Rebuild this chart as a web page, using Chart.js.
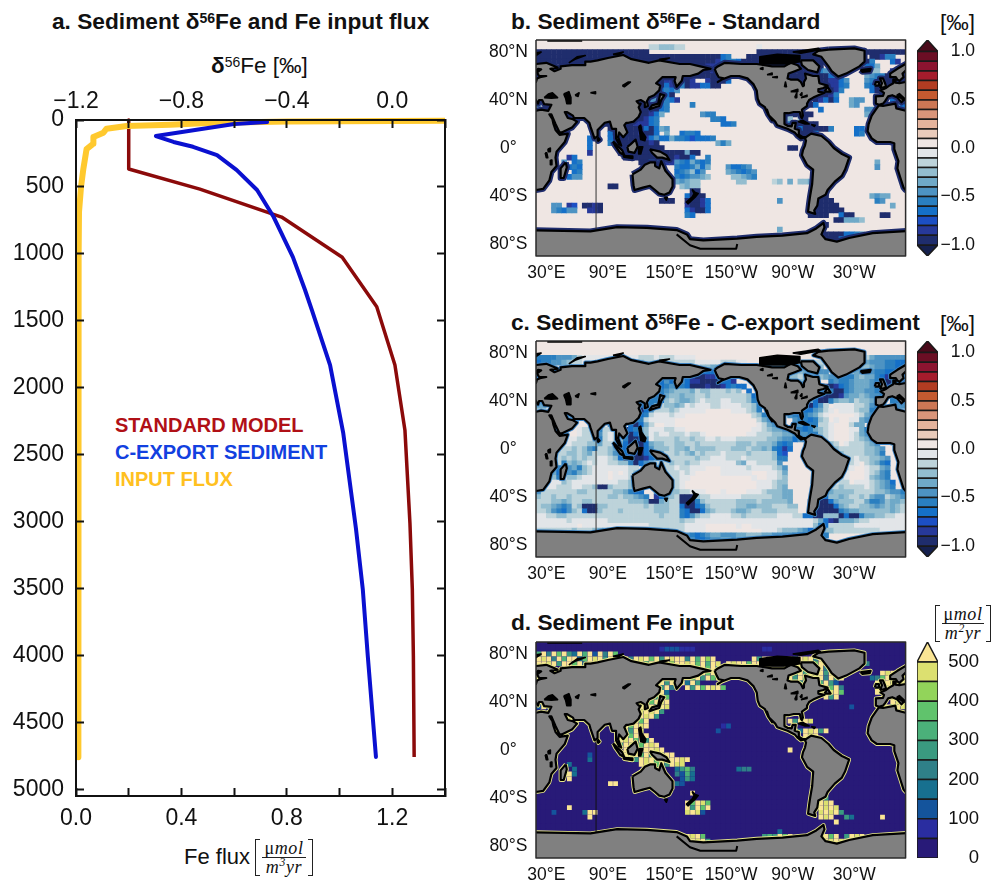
<!DOCTYPE html>
<html>
<head>
<meta charset="utf-8">
<title>Sediment d56Fe</title>
<script src="https://cdn.jsdelivr.net/npm/chart.js@4"></script>
<style>
html,body{margin:0;padding:0;background:#fff;overflow:hidden;width:1002px;height:884px}
body{position:relative;font-family:'Liberation Sans',Arial,sans-serif;color:#111}
canvas{position:absolute;display:block}
canvas.soft{filter:blur(0.45px)}
.txt{position:absolute;white-space:nowrap;line-height:1}
.title{font-weight:bold;font-size:22.7px}
.title sup,.lab sup{font-size:.62em;line-height:0;vertical-align:baseline;position:relative;top:-.42em}
.lab{font-size:22.5px}
.key{font-weight:bold;font-size:20px}
.brk{position:absolute;border:1.3px solid #222;top:0;bottom:0;width:4px}
.brk.l{left:0;border-right:0}
.brk.r{right:0;border-left:0}
.frac{position:absolute;left:7px;right:7px;top:0;bottom:0;text-align:center;font-family:'Liberation Serif',serif;font-style:italic;font-size:18px;letter-spacing:.6px}
.frac div{height:50%;line-height:19px}
.frac div:first-child{border-bottom:1.3px solid #222;box-sizing:border-box}
.frac sup{font-size:.65em;line-height:0}
.frac span{font-style:normal}
</style>
</head>
<body>
<div class="txt title" style="left:52px;top:10px">a. Sediment δ<sup>56</sup>Fe and Fe input flux</div>
<div class="txt lab" style="left:211px;top:55px"><b>δ</b><sup>56</sup>Fe [‰]</div>
<div class="txt key" style="left:115px;top:415px;color:#b01016">STANDARD MODEL</div>
<div class="txt key" style="left:115px;top:442px;color:#1240e0">C-EXPORT SEDIMENT</div>
<div class="txt key" style="left:115px;top:469px;color:#ffc020">INPUT FLUX</div>
<div class="txt lab" style="left:184px;top:846px;font-size:22px">Fe flux</div>
<div class="txt" style="left:255px;top:839px;width:58px;height:37px"><i class="brk l"></i><i class="brk r"></i><div class="frac"><div><span>μ</span>mol</div><div>m<sup>3</sup>yr</div></div></div>

<div class="txt title" style="left:511px;top:10px">b. Sediment δ<sup>56</sup>Fe - Standard</div>
<div class="txt lab" style="left:940px;top:12px">[‰]</div>
<div class="txt title" style="left:511px;top:311px">c. Sediment δ<sup>56</sup>Fe - C-export sediment</div>
<div class="txt lab" style="left:940px;top:313px">[‰]</div>
<div class="txt title" style="left:511px;top:611px">d. Sediment Fe input</div>
<div class="txt" style="left:935px;top:605px;width:56px;height:37px"><i class="brk l"></i><i class="brk r"></i><div class="frac"><div><span>μ</span>mol</div><div>m<sup>2</sup>yr</div></div></div>

<canvas id="profile" width="460" height="760" style="left:0;top:85px"></canvas>
<canvas id="mapB" class="soft" width="424" height="260" style="left:486px;top:30px"></canvas>
<canvas id="barB" width="92" height="260" style="left:910px;top:30px"></canvas>
<canvas id="mapC" class="soft" width="424" height="260" style="left:486px;top:331px"></canvas>
<canvas id="barC" width="92" height="260" style="left:910px;top:331px"></canvas>
<canvas id="mapD" class="soft" width="424" height="252" style="left:486px;top:632px"></canvas>
<canvas id="barD" width="92" height="252" style="left:910px;top:632px"></canvas>

<script>
// profile panel
var depthTicks=[0,500,1000,1500,2000,2500,3000,3500,4000,4500,5000];
var fluxTicks=[0,0.2,0.4,0.6,0.8,1.0,1.2,1.4];
var fluxTickLabels=['0.0','','0.4','','0.8','','1.2',''];
var deltaTicks=[-1.2,-1.0,-0.8,-0.6,-0.4,-0.2,0,0.2];
var deltaTickLabels=['−1.2','','−0.8','','−0.4','','0.0',''];

var standardDelta=[-1.0,-1.0,-0.73,-0.42,-0.19,-0.059,0.01,0.048,0.067,0.076,0.08,0.083];
var standardDepth=[0,366,516,725,1025,1395,1831,2317,3012,3503,4003,4758];
var exportDelta=[-0.475,-0.6,-0.897,-0.83,-0.756,-0.665,-0.59,-0.513,-0.45,-0.377,-0.331,-0.305,-0.236,-0.186,-0.138,-0.112,-0.093,-0.062];
var exportDepth=[15,30,120,164,200,262,374,523,725,1024,1270,1420,1831,2340,3049,3503,4003,4758];
var inputFlux=[1.4,0.8,0.5,0.357,0.192,0.116,0.104,0.066,0.066,0.04,0.028,0.019,0.0114,0.01,0.009,0.009];
var inputDepth=[5,12,22,35,45,65,95,127,177,218,364,500,688,1000,2500,4760];

// map axes
var lonTicks=[30,90,150,210,270,330];
var lonTickLabels=['30°E','90°E','150°E','150°W','90°W','30°W'];
var latTicks=[80,40,0,-40,-80];
var latTickLabels=['80°N','40°N','0°','40°S','80°S'];

// colour bars
var isoLevels=[-1,-0.9,-0.8,-0.7,-0.6,-0.5,-0.4,-0.3,-0.2,-0.1,0,0.1,0.2,0.3,0.4,0.5,0.6,0.7,0.8,0.9,1];
var isoColors=['#1f2d6d','#27399a','#1c4fc4','#1570c8','#2a7fc0','#4d93c3','#6fa9c8','#93bdcf','#bdd3da','#e2e5e8','#efe6e3','#e9cbbb','#e4b39c','#d9957a','#cc7755','#c45a30','#b23c22','#a51c2c','#8c1430','#6b0e24'];
var isoUnder='#15204e',isoOver='#4a0a1a';
var isoBarTicks=[1,0.5,0,-0.5,-1];
var isoBarLabels=['1.0','0.5','0.0','−0.5','−1.0'];
var inputLevels=[0,50,100,150,200,250,300,350,400,450,500];
var inputColors=['#281a78','#2a2da0','#14549c','#17708f','#2f8088','#3a9a80','#4bb07a','#60c36c','#92d45a','#dce070'];
var inputOver='#fae594';
var inputBarTicks=[500,400,300,200,100,0];
var inputBarLabels=['500','400','300','200','100','0'];

// cell letters are bands of isoColors, a = just below zero ... j = lowest
var isoKeys='jihgfedcba.';
// digits are bands of inputColors, t = above the top
var inputKeys='0123456789t';

// panel b, [lat, first lon, cells 5 deg wide], everything else is the '.' band
var standardRuns=[
[84,130,'bbcccbb'],[84,235,'a'],
[80,20,'jjjjjjjjjjjjjjjjjjjjjj'],[80,235,'jjjjjjjjjjjjjjjjjjjjjj'],[80,345,'jjjjjjj'],
[76,20,'jjjjjjjjjjjjjjjjjjjjjjjjjjjjjjjjjjjjgf'],[76,225,'jjjjjjjjjjjjjjjj'],[76,345,'jjiff..gj'],
[72,20,'jjjjjjjjjjjjjjjjjjjjjjjjjjjjjjjjjjjigf'],[72,205,'ffgjjjjjjjjjjjjjjjjjj'],[72,335,'jjf...gi'],
[68,170,'jjjiihg'],[68,200,'gjjjjjjjjjjjjjjjjjjj'],[68,340,'ggd....'],
[64,180,'jjig'],[64,275,'jiigfe'],[64,345,'cc..ijjjj'],[64,20,'jj'],
[60,165,'jjjjjjj'],[60,265,'jjjjjjjjgfe'],[60,340,'deffjjjjjj'],[60,20,'jj'],
[56,140,'jiiigg'],[56,165,'ji..ijj'],[56,200,'jg'],[56,265,'jjjjjjj'],[56,300,'jiige'],[56,340,'effjjiijj'],[56,20,'jj'],
[52,140,'jgigf'],[52,165,'jiiggjj'],[52,278,'jj'],[52,300,'jiigf'],[52,342,'fgjjjijj'],
[48,140,'gfge'],[48,298,'jjjif'],[48,345,'gjjgjjj'],
[44,130,'effgj'],[44,298,'jjif'],
[40,130,'eegfgi'],[40,290,'jigjg'],[40,325,'dee'],[40,365,'gfgf'],
[36,125,'gijgf'],[36,170,'f'],[36,285,'jg'],[36,325,'de'],[36,358,'geeegg'],[36,20,'eaae'],
[32,120,'jjijgf'],[32,295,'g'],[32,340,'ee'],
[28,120,'jjigf'],[28,140,'d'],[28,180,'eff'],[28,260,'jjjjjj'],[28,340,'d'],
[24,115,'jjigf'],[24,190,'ffg'],[24,260,'jc.cj'],[24,40,'g'],
[20,105,'jjiiigf'],[20,85,'jj'],[20,200,'ggf'],[20,265,'fjjjjj'],[20,40,'fg'],
[16,90,'jjg'],[16,105,'jjjjgjg'],[16,140,'de'],[16,270,'jgjjjjjf'],[16,330,'gg'],
[12,90,'gjg'],[12,105,'jjjijjg'],[12,145,'d..gggf'],[12,165,'ffg'],[12,275,'jjjg..'],[12,330,'gf'],
[8,70,'gg'],[8,90,'ggj'],[8,100,'jjjjjigj'],[8,135,'eggdffghgggf'],
[4,72,'g'],[4,90,'fgjj'],[4,100,'jjjjjjij'],[4,195,'dfd'],
[0,72,'g'],[0,100,'jjjjjjjjj'],[0,265,'jj'],
[-4,70,'i'],[-4,100,'jjjjjjjjjjjjjjjj'],[-4,165,'d'],
[-8,50,'ig'],[-8,105,'jjjjjjjjjjijjg'],[-8,185,'f'],
[-12,45,'e.gf'],[-12,120,'jjgfgiig'],[-12,155,'efgdfgf'],[-12,350,'d'],
[-16,45,'ggfg'],[-16,155,'fggfdgd'],[-16,205,'eggfe'],[-16,350,'e'],
[-20,45,'g.gf'],[-20,155,'gfecge'],[-20,205,'defgfe'],
[-24,45,'.gee'],[-24,155,'fgfeedc'],[-24,210,'ccdef'],
[-28,155,'dedcc'],[-28,215,'cc'],[-28,250,'bc.d.ccdd'],
[-32,90,'jj'],[-32,160,'cdcc'],
[-36,170,'jj'],
[-40,165,'gjjj'],[-40,290,'jij'],[-40,345,'dedd'],
[-44,140,'jjj'],[-44,165,'jjjig'],[-44,255,'e'],[-44,290,'jjjj'],[-44,350,'fe'],
[-48,35,'ee.ih'],[-48,65,'jjij'],[-48,165,'ijjig'],[-48,290,'jjjjj'],[-48,365,'d'],
[-52,35,'efgee'],[-52,70,'iij'],[-52,165,'gijjg'],[-52,290,'jjjjjj'],
[-56,165,'fg'],[-56,285,'jjjj'],[-56,315,'gjj'],[-56,355,'jj'],
[-60,310,'jjdddc'],
[-64,300,'j'],[-68,255,'d'],
[-72,295,'jjjjj'],[-72,320,'ggfe'],[-76,300,'jjjggj']
];

// panel c, one string per row from 88N, blocks of 60 deg starting at 20E
var exportRows=[
['............','............','............','............','............','............'],
['............','............','............','............','............','............'],
['............','............','............','............','............','............'],
['ffffeeedbaaa','aaaaaaaabbba','bbbaaaa.....','............','............','....bdeeeeee'],
['gffeedcbbaaa','aabbbbbccbbb','bbbbbbbaaaaa','bbbaa.......','..aaabbb....','..bcdeeeffgg'],
['ggf.........','............','......bbccdd','ccc.........','cccddeec....','...ccdeeffgg'],
['gg..........','............','ddddddfggggg','gg..........','eedcdddee...','ccdeeeffggjj'],
['jj..........','..........gg','ggfdegijjiig','gg.....ggg..','.ccbccdcdeef','ffdcddfgijjj'],
['jj..........','..........fg','gegdegiijjjj','ggi.........','.bcccdc..fef','fedddefgjjii'],
['ij..........','..........ff','gfeffgjjjijj','igfgg.......','...gf...jjig','fedddefgijjj'],
['i...........','........fg..','fedcccdbccbb','bcbc.g......','......iiifjj','feddeefjjijj'],
['f...........','.........eff','gdccdccbbcbb','bbbbbcg.....','.......ijjji','eddcdeeffgjj'],
['eee.........','.........fff','gcbcddcbabbb','aabbbcf.....','.....dgjjfdc','cdbccdfg.ffg'],
['dd..........','.......fgjfd','bccdcabaaabb','aaaabbcf....','....gjgeb.aa','aabbcef..dee'],
['............','.......gjgeb','bbcbaaaaa...','..aaabcf....','...eggedba.a','aabccf......'],
['...de.......','.......ggfba','aabaa.......','......bcf...','.efgfedba...','..abde......'],
['...fe..h....','......gffbaa','aaa.........','.......bde..','..effgfcb.a.','.aade.......'],
['...efc....ab','a.ee..gjgdb.','.aa.........','.......abde.','..degffbba..','.bdd........'],
['....fd..abbd','fbbdgjgfdcaa','abbaa.......','......aabcdd','efgfgfdcba..','.aadf.......'],
['........abbc','ebabdgjgecab','aabbbabba...','.....aabbbcc','ddeeeffcba..','.abdef......'],
['......aabbbc','fbabcfjjgeab','bbbcbbcbbaab','aaabbbbbbccd','eegef.cbba..','.abcde......'],
['.....aabbbcc','dbbcdgjjjgdc','cbbccbbcbbbb','bbbcccbcccdf','gf....bcdcb.','abbbcde.....'],
['.....bbcbcef','bbcdfgjjjgec','ccbccdbccccb','bbcccbccdcfg','ig.....bcdcb','bbbbccde....'],
['....bbccbcdb','bbcefgijjgfe','dbbcbcdbcbbb','abbbbcbbbbcg','h.....ccccdc','bbbbccdf....'],
['....bcbcbcbb','aabcgjgjjigf','cbbbbbbcbbaa','abbbabbbbbcf','f........ccd','cbabbccde...'],
['....bfcdcbab','aabbccfjgecb','bbcbbcbbaaaa','aaacdaabbbbe','..........cd','cba.bcdfg...'],
['...afaedfcba','aaaaaabb...d','cbbabbaaa...','aaaaabaaaabc','e..........c','ba..abbde...'],
['...dgaefdcba','aa.a.abc...e','cbbbaba.....','aaaaaa...aab','d..........b','a...abcef...'],
['...cf.ccbaaa','aa.aaabe...e','dcbbaa......','......a..aab','c.........ab','a...acdef...'],
['...aacbaaaaa','aaaabbcd...e','fdcba.......','.......aaabc','c........aab','b.aaabcdeg..'],
['..aabbbaabbc','jjcbbbcd...e','gecba.......','.......aaabc','d.......bbbc','bbbbabcdef..'],
['ebbbbbbbccbb','bbbccdfgg..e','gdccbbaaa...','a....aaabccc','dd.....fgdcc','ccbbbbccdeef'],
['cbbcbbcbbbbb','bbccbccdef.i','gdcbjjjcbbaa','aaaabbbbbbcc','dd....jjgccd','cbbcbdeebcde'],
['bbbccdcbbccb','bbbbbbcccdjj','dcbbjjjfcbbb','bbbccccbcccc','cd...jjjjgdc','ccbbdffecddc'],
['bccdefebcjjj','ccbbbbbbbcbc','ccbbgjjgfcbb','bbbccddcccbb','bcc..jjjjjgd','cbbccdedcdcb'],
['bbcefgecbgjj','cbbbcbbbbbbc','ccbbfgjjgdcb','bbcddcbbcccb','bbb..jjjjjjf','eddccccccdcb'],
['aabbccbbbbbb','bbbbbbbbbbbb','cbbbfgecbbaa','aabbcbbbbbba','aabbggjjcccj','gjjfddccbbaa'],
['aaaaaabaaaaa','aabbbbbbbbbb','bbbbcbbaaaaa','aaaaaaaaaaaa','aaaaaabdgijd','ddcbbaaaaaaa'],
['aaaaaaaa.aaa','aaaaaaaaaabb','bbbbbaaaa...','...a..aaaaaa','aaaaaacfgbbb','bbaaaaaaaaaa'],
['bbbbbbbcbbbc','deddccbbbbcc','ccbbbaaaa...','........aaab','cccdeg.eccbb','bbbbbbbaaaaa'],
['............','............','....cefgfedd','eeeddcccddee','eefggfg.f...','......cdeeee'],
['............','............','......eggfee','dd..........','.....g.c....','............'],
['............','............','............','............','............','............'],
['............','............','............','............','............','............'],
['............','............','............','............','............','............']
];

// panel d, same layout as panel b, the rest is the lowest band
var inputRuns=[
[84,140,'1222111'],[84,240,'11'],
[80,20,'6t4t7t53t6t2t4t7'],[76,20,'t9t4t6tt37t9t5tt6t4t9t7t5t9tt4t6t8t'],[72,20,'tt9t5tt7t4tt9t6ttt9tt7tttt8tt9t7t6t9'],
[68,170,'t9t7t5'],[76,230,'t5t9t3tt6t9t4t7t9'],[72,205,'t9tt7tt5t9tt3tt5t7tt9t3t7t9'],[68,275,'t7t9t4t7t'],
[64,270,'7t5t9t6t'],[60,265,'t5t7t9t4t7t'],[56,265,'9t5t8t6t9'],[52,280,'t7'],
[64,300,'5t7'],[60,300,'4t5'],[56,300,'t52'],[52,300,'t7t4'],[48,300,'t9t7'],[44,300,'t5t'],
[72,335,'t4'],[64,355,'t9t9t'],[60,345,'347t9t9t'],[56,350,'t7t9ttt'],[52,350,'t9t6t9t'],[48,350,'t5tt'],[44,360,'t9t9'],[40,365,'t9t9'],[36,360,'t7t9'],
[64,20,'t9'],[60,20,'tt'],[56,20,'9t'],[36,20,'2t2t'],
[64,170,'t9t7t9'],[60,165,'t7t5t7t'],[56,165,'3t5'],[52,165,'t5t7t9t7'],[56,140,'t5t3t'],[52,140,'5t4'],[48,140,'t3'],
[44,130,'t5t7'],[40,125,'t7t9t'],[36,120,'t9t7t9'],[32,120,'9t9t5'],[28,120,'t9t5'],[24,115,'t7t'],
[20,105,'t7t9t'],[16,105,'t5t9'],[12,105,'t7t9t'],[8,100,'t9t7t5t'],[4,100,'5t9t7t9t'],[0,105,'t7t9tt9t'],[-4,105,'t9t7t5t9tt'],[-8,110,'t5t9t7t9tt9t'],[-12,120,'t9t7t5tt9'],
[-16,155,'3574'],[-20,155,'4263'],[-24,160,'253'],[-12,150,'t9'],[-28,155,'32'],[-36,170,'t'],[-44,165,'t7t97'],[-48,165,'t5t7t'],[-52,165,'9t92'],
[-20,45,'4t3'],[-16,55,'3'],[-12,50,'3'],[-24,50,'t'],[-4,70,'2'],[-8,70,'3'],
[-28,90,'tt'],[-48,50,'t'],[-52,65,'3tt'],[-56,70,'t'],[-52,35,'2'],
[-40,295,'t5'],[-44,295,'t9t'],[-48,295,'t9t9'],[-52,295,'9t9t5'],[-56,295,'t9t'],
[-56,355,'t'],[-60,310,'t'],[-56,320,'53'],[16,195,'2'],[20,200,'12'],[-16,215,'344'],[0,265,'t'],
[24,265,'t5tt9'],[16,270,'t3t9t5t'],[12,280,'t9t'],
[-72,165,'t9t7'],[-72,240,'565t7t'],[-72,285,'t9'],[-68,255,'3'],[-76,170,'t9t5'],[-76,300,'t9t9t5t'],[-72,300,'t7t'],[-72,320,'5t9t'],[36,325,'2']
];

// coastlines, [lon, lat]
var afroEurasia=[[-6,36],[-9,37],[-9,43],[-2,43.5],[-1,46],[-4.5,48],[1,50],[4,52],[8,54],[8,57],[10.5,57],[10,54.5],[14,54],[20,55],[21,58],[24,59],[30,60],[23,60],[21,63],[25,65.5],[22,66],[17,62],[18,59],[14,56],[12,57],[10.5,59],[5,59],[5,62],[12,66],[20,70],[30,71],[41,67],[34,66],[38,64],[44,66],[44,68],[55,69],[68,69],[68,72],[73,72],[80,73],[90,75],[105,77.5],[113,74],[130,71],[140,73],[160,70],[170,70],[180,68],[190,66],[183,65],[178,62],[170,60],[163,60],[162,56],[157,51],[155,56],[156,59],[143,59],[137,54],[141,52],[140,48],[135,44],[130,42],[128,39],[129,35],[126,34],[126,38],[122,40],[118,39],[120,37],[122,37],[120,34],[122,30],[120,26],[115,22],[110,21],[108,21],[106,19],[109,13],[105,9],[101,13],[100,9],[103,2],[101,3],[98,8],[98,16],[94,16],[92,22],[87,21],[80,15],[80,10],[77,8],[73,18],[72,21],[67,25],[57,25],[56,27],[50,30],[48,30],[51,25],[56,24],[60,22],[55,17],[45,13],[43,13],[39,20],[35,28],[33,28],[36,24],[37,20],[39,15],[43,11],[51,12],[48,5],[40,-3],[39,-8],[40,-15],[35,-20],[33,-27],[27,-34],[20,-35],[18,-33],[15,-25],[12,-17],[13,-11],[9,-1],[9,4],[5,5],[-8,5],[-13,8],[-17,14],[-16,20],[-13,27],[-9,32],[-6,35.5],[-2,35],[10,37],[11,33],[20,31],[25,32],[32,31],[35,36],[28,36.5],[26,40],[23,40],[22,37],[19,41],[14,45],[12,44],[18,40],[16,38],[12,42],[7,44],[3,43],[0,39],[-2,37]];
var britain=[[-5,50],[1,51],[0,54],[-2,58],[-5,58],[-3,54]];
var ireland=[[-10,52],[-6,52],[-6,55],[-9,55]];
var iceland=[[-24,65],[-14,66],[-15,64],[-22,63.5]];
var northAmerica=[[194,66],[197,68],[204,71],[220,70],[235,70],[250,68],[262,68],[268,71],[275,69],[278,66],[272,64],[266,62],[265,58],[268,57],[275,57],[278,55],[280,51.5],[281,52],[281,55],[283,58],[282,62],[290,60],[295,60],[296,54],[304,52],[300,50],[295,49],[295,47],[301,46],[295,44],[290,42],[286,40],[284,37],[284,35],[279,32],[280,27],[279,25],[278,26],[277,30],[271,30],[266,29],[262,29],[262,24],[262,20],[265,18.5],[269,18],[270,21],[273,21],[272,16],[276,15],[276,11],[280,9],[283,9],[278,8],[275,10],[272,13],[265,16],[255,19],[253,22],[247,27],[245,32],[247,27],[250,23],[246,28],[243,34],[238,37],[236,41],[235,48],[232,53],[226,58],[218,60],[210,60],[201,57],[197,55],[203,58],[198,59],[196,62]];
var southAmerica=[[283,9],[288,12],[298,10],[305,5],[310,0],[318,-5],[325,-8],[321,-18],[318,-23],[311,-28],[304,-35],[302,-39],[295,-42],[294,-48],[291,-52],[292,-55],[285,-53],[286,-46],[287,-40],[289,-30],[290,-18],[284,-14],[279,-6],[280,-2],[282,2],[283,6],[282,8]];
var greenland=[[305,82],[330,83],[340,81],[340,72],[335,68],[322,62],[314.5,59.5],[308,64],[305,68],[298,76],[290,78],[295,81]];
var baffin=[[278,73],[290,73],[296,68],[294,63],[285,65],[279,69]];
var newfoundland=[[301,47],[307,47],[304,51]];
var antarctica=[[15,-68.5],[73,-69.5],[99,-66],[128,-66.5],[157,-68.4],[167,-72],[170,-76],[183,-77],[216,-75.5],[235,-74],[260,-73],[284,-71],[293,-67],[300,-62.5],[301,-66],[298,-72],[302,-76],[313,-78],[325,-75],[348,-71],[385,-69],[385,-95],[15,-95]];
var australia=[[114,-22],[122,-18],[126,-14],[131,-12],[136,-12],[136,-15],[140,-17],[142,-11],[146,-19],[153,-26],[153,-32],[150,-37],[145,-39],[140,-38],[136,-35],[131,-31.5],[124,-33],[116,-35],[115,-31]];
var madagascar=[[49,-12],[50,-16],[47,-25],[44,-25],[44,-17]];
var sumatra=[[95,5.5],[104,-2],[106,-6],[102,-4],[97,2]];
var borneo=[[109,1],[112,3],[117,7],[119,1],[116,-4],[110,-3]];
var java=[[105,-6.5],[114,-7],[114,-8.5],[106,-7.5]];
var newGuinea=[[131,-1],[141,-3],[147,-6],[150,-10],[143,-8],[138,-8],[133,-4]];
var japan=[[130,32],[136,34],[140,35],[142,40],[145,44],[141,45],[140,41],[139,37],[133,35.5]];
var sriLanka=[[80,9],[82,7],[80.5,6]];
var landShapes=[northAmerica,southAmerica,greenland,baffin,newfoundland,antarctica,australia,madagascar,sumatra,borneo,java,newGuinea,japan,sriLanka];
var wrappedShapes=[afroEurasia,britain,ireland,iceland];

// lakes and groups of small islands that come out solid black
var blackSea=[[28,42],[32,45],[36,46],[41,42],[35,41.5]];
var caspian=[[47,45],[52,47],[54,42],[54,37],[50,37],[49,41]];
var aral=[[58,44],[62,46],[61,43]];
var balkhash=[[73,46],[78,46.8],[78,45.2]];
var baikal=[[104,52],[110,55],[112,55],[106,51]];
var victoria=[[31.5,-1],[34,0],[34,-3],[32,-3]];
var tanganyika=[[29,-4],[30.5,-4],[31.5,-8],[30,-8]];
var malawi=[[34,-10],[35,-10],[35.5,-14],[34,-14]];
var philippines=[[120,18],[122,19],[123,14],[127,9],[126,6],[122,7],[121,13]];
var sulawesi=[[120,1],[124,1],[122,-5],[120,-5]];
var newZealand=[[172,-34.5],[175,-37],[178,-38],[175,-41],[168,-46.5],[166.5,-45],[172,-41],[174,-38]];
var tasmania=[[145,-41],[148,-41],[147,-43.5]];
var arcticCanada=[[238,70],[238,76],[255,78],[277,77],[277,72],[265,70]];
var ellesmere=[[270,80],[295,83],[297,82],[278,79]];
var cuba=[[275,22],[280,23],[286,20],[282,20]];
var hispaniola=[[288,19.5],[292,19],[291,18]];
var svalbard=[[12,78],[25,80],[20,77]];
var novayaZemlya=[[52,71],[58,74],[68,77],[60,76]];
var severnaya=[[95,78],[105,80],[100,77.5]];
var newSiberian=[[140,74],[150,75],[145,73.5]];
var greatBear=[[238,66],[241,67],[241,65.5]];
var greatSlave=[[245,61],[250,62.5],[250,61]];
var athabasca=[[250,59],[255,59.5],[255,58.5]];
var winnipeg=[[262,51],[264,51],[263,55]];
var superior=[[268,47],[275,49],[275,47]];
var michigan=[[272,42],[274,42],[274,46]];
var huron=[[277,44],[279,46],[279,44]];
var erie=[[278,42],[284,44],[284,43]];
var blackShapes=[blackSea,caspian,aral,balkhash,baikal,victoria,tanganyika,malawi,philippines,sulawesi,newZealand,tasmania,arcticCanada,ellesmere,cuba,hispaniola,svalbard,novayaZemlya,severnaya,newSiberian,greatBear,greatSlave,athabasca,winnipeg,superior,michigan,huron,erie];

var rossShelf=[[157,-72],[170,-81],[180,-84],[215,-84],[216,-80]];
var seam=[[78.5,-69],[78.5,10]];
var topEdge=[[31,89.4],[65,89.4]];
var mapFrame=[[20,90],[380,90],[380,-90],[20,-90]];

var font="'Liberation Sans',Arial,sans-serif";

function pts(shape,shift){
  var out=shape.map(function(p){return {x:p[0]+(shift||0),y:p[1]}});
  return out;
}
function ring(shape,shift){
  var out=pts(shape,shift);
  out.push(out[0]);
  return out;
}

// fixed axis sizes so the plot boxes land where they should
function fit(size){
  return function(scale){
    if(scale.isHorizontal()) scale.height=size; else scale.width=size;
    scale.paddingTop=0;scale.paddingBottom=0;scale.paddingLeft=0;scale.paddingRight=0;
  }
}
function useTicks(list){
  return function(scale){ scale.ticks=list.map(function(v){return {value:v}}) }
}
function profileAxis(position,min,max,ticks,labels,size,pad){
  return {
    type:'linear',position:position,min:min,max:max,
    reverse:position=='left'||position=='right',
    afterBuildTicks:useTicks(ticks),
    afterFit:fit(size),
    border:{color:'#111',width:2,z:1},
    grid:{drawOnChartArea:false,tickLength:-8,tickWidth:2,tickColor:'#111',z:1},
    ticks:{display:labels!=null,padding:pad,autoSkip:false,maxRotation:0,color:'#111',
      font:{family:font,size:23},
      callback:function(v,i){return labels?labels[i]:''}}
  };
}
function zip(xs,ys){ return xs.map(function(v,i){return {x:v,y:ys[i]}}) }

new Chart(document.getElementById('profile'),{
  type:'scatter',
  data:{datasets:[
    {data:zip(exportDelta,exportDepth),xAxisID:'top',yAxisID:'y',showLine:true,borderColor:'#0a10d0',borderWidth:4,borderJoinStyle:'round',borderCapStyle:'round',pointRadius:0,order:1,clip:6},
    {data:zip(standardDelta,standardDepth),xAxisID:'top',yAxisID:'y',showLine:true,borderColor:'#8b0a0a',borderWidth:3.5,borderJoinStyle:'round',pointRadius:0,order:3,clip:6},
    {data:zip(inputFlux,inputDepth),xAxisID:'x',yAxisID:'y',showLine:true,borderColor:'#ffc92e',borderWidth:6,borderJoinStyle:'round',pointRadius:0,order:2,clip:6}
  ]},
  options:{
    responsive:false,animation:false,events:[],
    layout:{padding:{left:0,right:15,top:0,bottom:0}},
    plugins:{legend:{display:false},tooltip:{enabled:false}},
    scales:{
      x:profileAxis('bottom',0,1.4,fluxTicks,fluxTickLabels,49,17),
      top:profileAxis('top',-1.2,0.2,deltaTicks,deltaTickLabels,35,13),
      y:profileAxis('left',0,5050,depthTicks,depthTicks.map(String),76,20),
      right:profileAxis('right',0,5050,depthTicks,null,0,0)
    }
  }
});

// maps
function cellsFrom(baseKey,runs,rows){
  var grid=[];
  for(var r=0;r<45;r++){
    grid.push([]);
    for(var c=0;c<72;c++) grid[r].push(baseKey);
  }
  if(rows) rows.forEach(function(blocks,r){
    var s=blocks.join('');
    for(var c=0;c<72&&c<s.length;c++) grid[r][c]=s[c];
  });
  if(runs) runs.forEach(function(run){
    var r=(88-run[0])/4, c=(run[1]-20)/5;
    for(var i=0;i<run[2].length;i++){
      var col=Math.floor(c+i);
      if(col>=0&&col<72) grid[r][col]=run[2][i];
    }
  });
  var out=[];
  grid.forEach(function(row,r){
    row.forEach(function(k,c){
      out.push({x:22.5+5*c,y:88-4*r,k:k});
    });
  });
  return out;
}
function lineSet(data,o){
  return Object.assign({data:data,showLine:true,pointRadius:0,borderWidth:0,tension:0,fill:false,borderJoinStyle:'round'},o);
}
function mapChart(id,bottomSize,cells,keys,colors,overColor,baseColor,cellRadius,bandColor,bandWidth,seamColor){
  var sets=[];
  function cellColor(c){
    return c.k=='t'?overColor:colors[keys.indexOf(c.k)];
  }
  // ocean backing, then the cells that differ from it
  sets.push({data:cells,showLine:false,pointStyle:'rect',pointRadius:4.4,pointBorderWidth:0,order:10,pointBackgroundColor:baseColor});
  var marked=cells.filter(function(c){return cellColor(c)!=baseColor});
  sets.push({data:marked,showLine:false,pointStyle:'rect',pointRadius:cellRadius,pointBorderWidth:0,order:9,pointBackgroundColor:marked.map(cellColor)});
  function both(fn){
    landShapes.forEach(function(s){fn(s,0)});
    wrappedShapes.forEach(function(s){fn(s,0);fn(s,360)});
  }
  both(function(s,shift){
    sets.push(lineSet(ring(s,shift),{borderColor:bandColor,borderWidth:bandWidth,order:8}));
  });
  both(function(s,shift){
    sets.push(lineSet(ring(s,shift),{borderColor:'#000',borderWidth:2.2,backgroundColor:'#808080',fill:'shape',order:6}));
  });
  blackShapes.forEach(function(s){
    sets.push(lineSet(ring(s),{borderColor:'#000',borderWidth:1.6,backgroundColor:'#000',fill:'shape',order:5}));
  });
  sets.push(lineSet(pts(rossShelf),{borderColor:'#000',borderWidth:2,order:4}));
  sets.push(lineSet(pts(seam),{borderColor:seamColor,borderWidth:1,order:7}));
  sets.push(lineSet(pts(topEdge),{borderColor:'#000',borderWidth:2,order:4}));
  sets.push(lineSet(ring(mapFrame),{borderColor:'#2a2a2a',borderWidth:1.5,order:3,clip:false}));
  new Chart(document.getElementById(id),{
    type:'scatter',
    data:{datasets:sets},
    options:{
      responsive:false,animation:false,events:[],
      layout:{padding:{left:0,right:4,top:10,bottom:0}},
      plugins:{legend:{display:false},tooltip:{enabled:false},filler:{drawTime:'beforeDatasetDraw'}},
      scales:{
        x:{type:'linear',min:20,max:380,afterBuildTicks:useTicks(lonTicks),afterFit:fit(bottomSize),
          border:{display:false},grid:{display:false,drawTicks:false},
          ticks:{autoSkip:false,maxRotation:0,padding:7,color:'#111',font:{family:font,size:17.5},
            callback:function(v,i){return lonTickLabels[i]}}},
        y:{type:'linear',position:'left',min:-90,max:90,afterBuildTicks:useTicks(latTicks),afterFit:fit(50),
          border:{display:false},grid:{display:false,drawTicks:false},
          ticks:{autoSkip:false,crossAlign:'center',padding:8,color:'#111',font:{family:font,size:17.5},
            callback:function(v,i){return latTickLabels[i]}}}
      }
    }
  });
}

// colour bars
function barChart(id,levels,colors,over,under,ticks,labels,tipTop,tipBottom,rightPad,fontSize){
  var sets=[];
  var lineCol='#1a1a1a';
  colors.forEach(function(c,i){
    sets.push(lineSet([{x:0,y:levels[i]},{x:1,y:levels[i]},{x:1,y:levels[i+1]},{x:0,y:levels[i+1]},{x:0,y:levels[i]}],
      {borderColor:lineCol,borderWidth:1.5,backgroundColor:c,fill:'shape'}));
  });
  var top=levels[levels.length-1];
  sets.push(lineSet([{x:0,y:top},{x:1,y:top},{x:0.5,y:tipTop},{x:0,y:top}],{borderColor:lineCol,borderWidth:1.5,backgroundColor:over,fill:'shape'}));
  if(under) sets.push(lineSet([{x:0,y:levels[0]},{x:1,y:levels[0]},{x:0.5,y:tipBottom},{x:0,y:levels[0]}],{borderColor:lineCol,borderWidth:1.5,backgroundColor:under,fill:'shape'}));
  new Chart(document.getElementById(id),{
    type:'scatter',
    data:{datasets:sets},
    options:{
      responsive:false,animation:false,events:[],
      layout:{padding:{left:7,right:rightPad,top:10,bottom:0}},
      plugins:{legend:{display:false},tooltip:{enabled:false},filler:{drawTime:'beforeDatasetDraw'}},
      scales:{
        x:{type:'linear',min:0,max:1,display:true,afterFit:fit(id=='barD'?26:34),border:{display:false},grid:{display:false},ticks:{display:false}},
        y:{type:'linear',position:'right',min:tipBottom,max:tipTop,afterBuildTicks:useTicks(ticks),afterFit:fit(92-7-21-rightPad),
          border:{display:false},grid:{display:false},
          ticks:{autoSkip:false,crossAlign:'far',padding:0,color:'#111',font:{family:font,size:fontSize},
            callback:function(v,i){return labels[i]}}}
      }
    }
  });
}

var isoCellColors=isoColors.slice(0,10).concat(['#efe6e3']);
mapChart('mapB',34,cellsFrom('.',standardRuns),isoKeys,isoCellColors,null,'#efe6e3',4,'#1f2d6d',6,'#333');
mapChart('mapC',34,cellsFrom('.',null,exportRows),isoKeys,isoCellColors,null,'#efe6e3',4,'#3f84c2',4,'#333');
mapChart('mapD',26,cellsFrom('0',inputRuns),inputKeys,inputColors,inputOver,'#281a78',3.4,'#e6e68a',4,'#111');
barChart('barB',isoLevels,isoColors,isoOver,isoUnder,isoBarTicks,isoBarLabels,1.12,-1.115,27,17.5);
barChart('barC',isoLevels,isoColors,isoOver,isoUnder,isoBarTicks,isoBarLabels,1.12,-1.115,27,17.5);
barChart('barD',inputLevels,inputColors,inputOver,null,inputBarTicks,inputBarLabels,551,0,23,18.5);
</script>
</body>
</html>
